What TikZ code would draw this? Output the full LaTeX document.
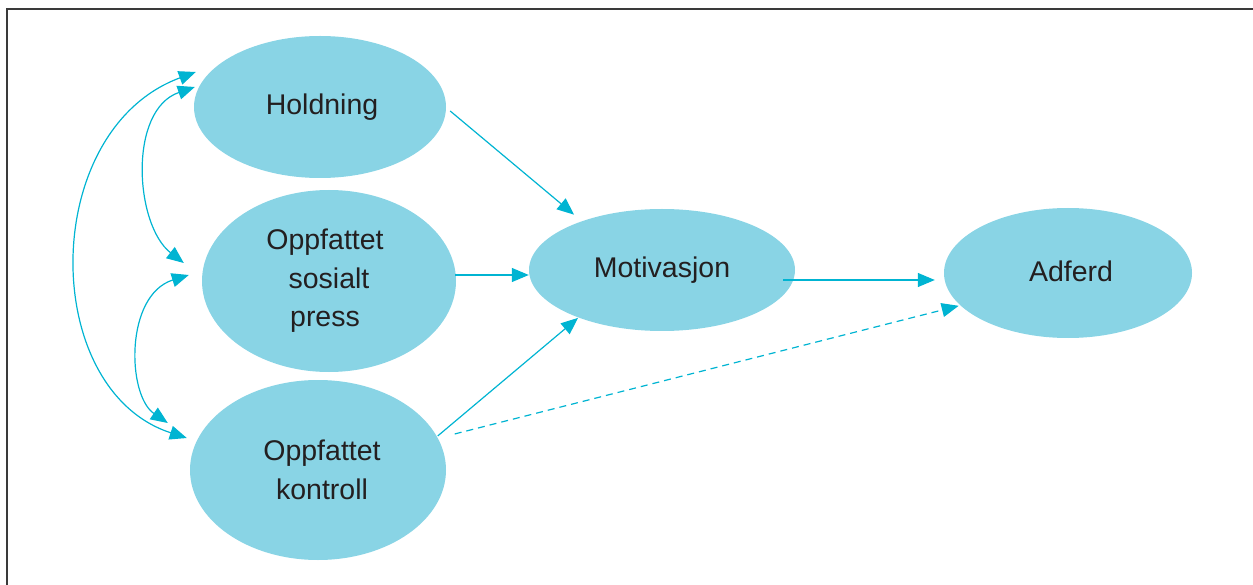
\documentclass[tikz,border=0pt]{standalone}
\usepackage{fontspec}
\setmainfont{Liberation Sans}
\usetikzlibrary{shapes.geometric,arrows.meta}
\definecolor{ellfill}{HTML}{89D4E5}
\definecolor{arrcol}{HTML}{00B4D2}
\definecolor{txtcol}{HTML}{231F20}
\definecolor{framecol}{HTML}{3A3A3A}
\tikzset{
  ell/.style={ellipse, fill=ellfill, draw=none, inner sep=0pt, align=center,
    text=txtcol, font=\fontsize{28.5}{38.5}\selectfont},
  arr/.style={draw=arrcol, line width=1.2pt, -{Triangle[length=17pt,width=14pt]}},
  biarr/.style={draw=arrcol, line width=1.2pt, {Triangle[length=17pt,width=14pt]}-{Triangle[length=17pt,width=14pt]}},
  dasharr/.style={arr, dash pattern=on 7pt off 5pt},
}
\begin{document}
\begin{tikzpicture}[x=1pt,y=-1pt]
\useasboundingbox (0,0) rectangle (1253,585);
\draw[framecol, line width=2pt] (7,586) -- (7,9) -- (1254,9);

\node[ell, minimum width=252pt, minimum height=142pt] (hold) at (320,107) {\raisebox{3pt}{\hspace*{4pt}Holdning}};
\node[ell, minimum width=254pt, minimum height=182pt] (sos) at (329,281) {Oppfattet\hspace*{8pt}\\sosialt\hspace*{8pt}\\press\hspace*{8pt}};
\node[ell, minimum width=256pt, minimum height=180pt] (kont) at (318,470) {\hspace*{8pt}Oppfattet\\\hspace*{8pt}kontroll};
\node[ell, minimum width=266pt, minimum height=122pt] (mot) at (662,270) {Motivasjon};
\node[ell, minimum width=248pt, minimum height=130pt] (adf) at (1068,273) {\raisebox{3pt}{\hspace*{6pt}Adferd}};

% straight arrows
\draw[arr] ([shift={(4,4)}]hold.east) -- ([shift={(-9,-6)}]mot.148);
\draw[arr] ([shift={(-1,-6)}]sos.east) -- ([shift={(0,5)}]mot.west);
\draw[arr] ([shift={(1,0)}]kont.16) -- ([shift={(-1,0)}]mot.210);
\draw[arr] ([shift={(-12,10)}]mot.east) -- ([shift={(-9,7)}]adf.west);
\draw[dasharr] ([shift={(18,-2)}]kont.16) -- ([shift={(-2,0)}]adf.197);

% curved double arrows
\draw[biarr] ([shift={(2,-35)}]hold.west) .. controls +(-157,58) and +(-148,-48) .. ([shift={(-3,-32)}]kont.west);
\draw[biarr] ([shift={(1,-20)}]hold.west) .. controls +(-67,23) and +(-49,-38) .. ([shift={(-18,-18)}]sos.west);
\draw[biarr] ([shift={(-13,-6)}]sos.west) .. controls +(-64,20) and +(-41,-28) .. ([shift={(-22,-47)}]kont.west);
\end{tikzpicture}
\end{document}
